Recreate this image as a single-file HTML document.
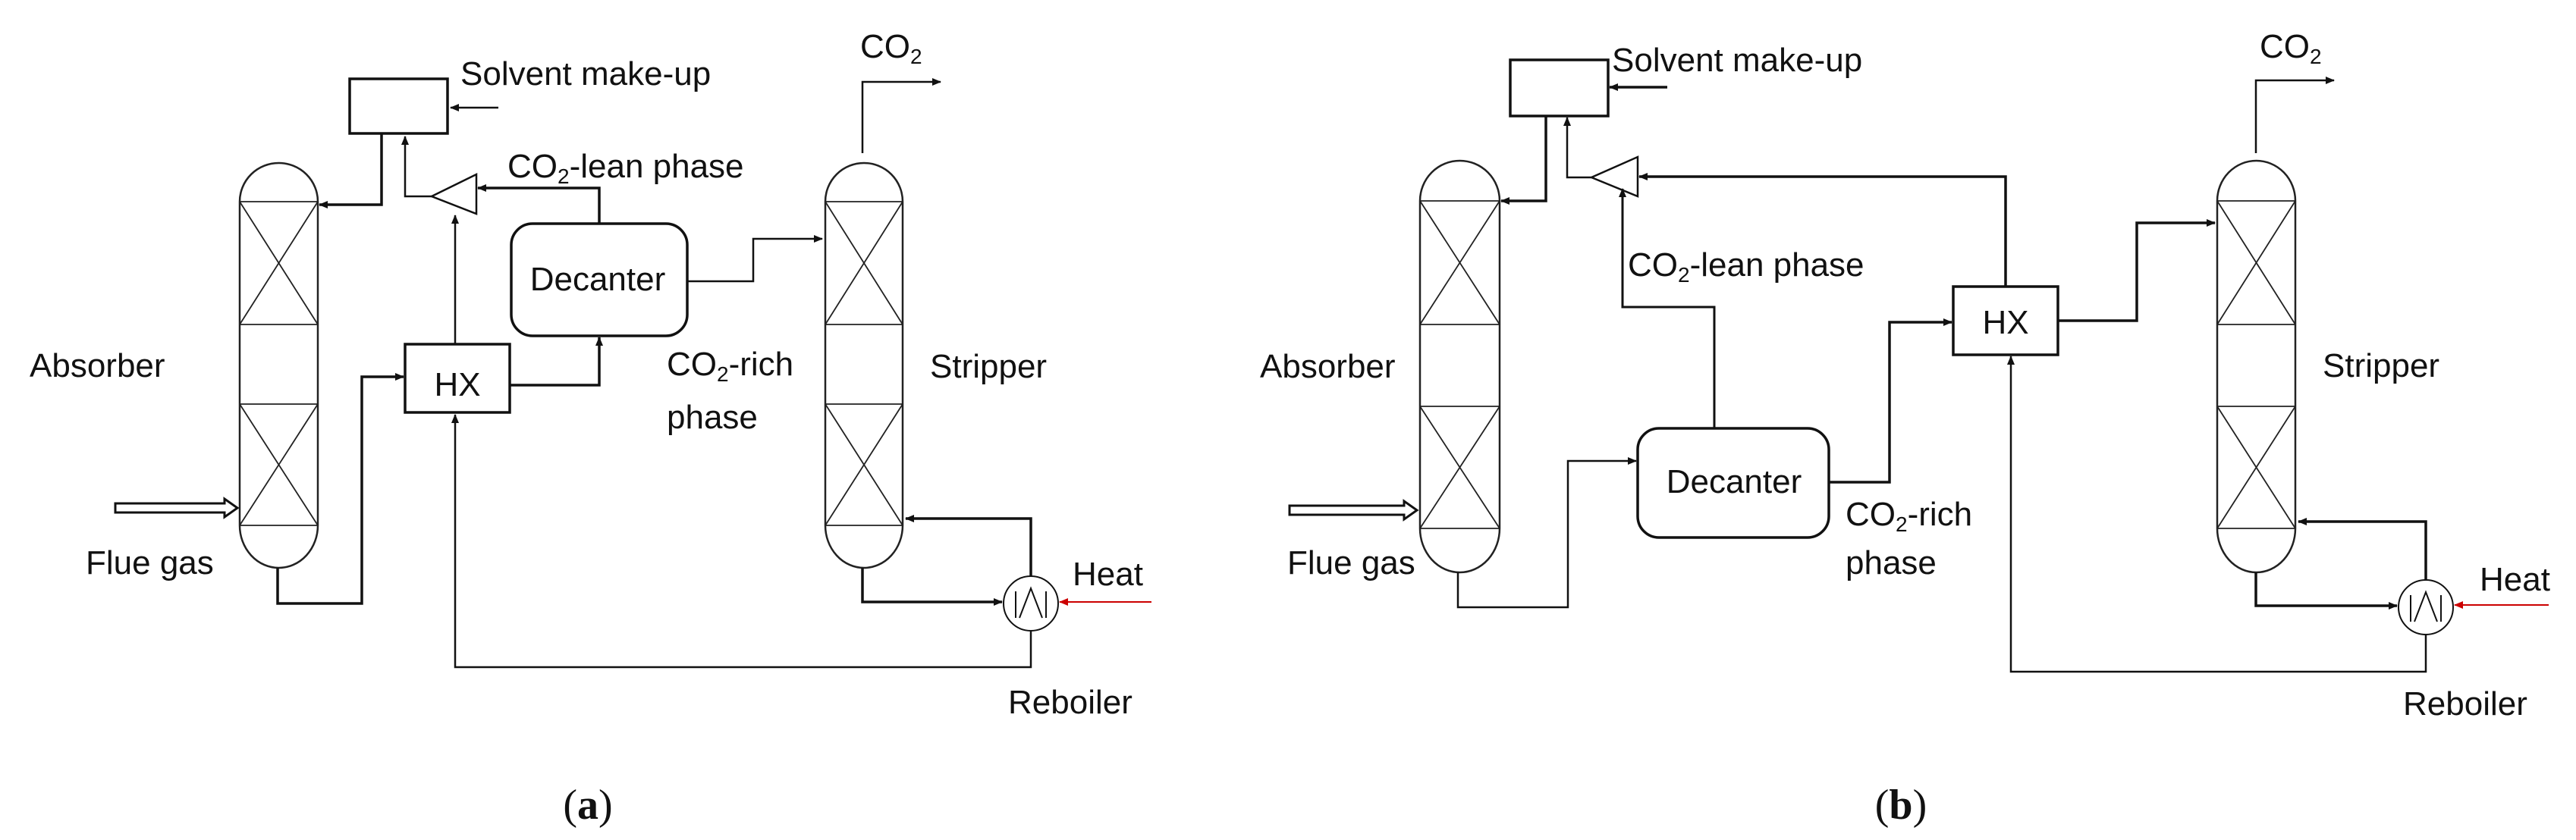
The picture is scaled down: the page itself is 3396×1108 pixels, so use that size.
<!DOCTYPE html>
<html><head><meta charset="utf-8"><style>
html,body{margin:0;padding:0;background:#fff;}
svg{display:block;}
text{font-family:"Liberation Sans",sans-serif;font-size:44px;fill:#111;}
.s{font-size:28px;}
.cap{font-family:"Liberation Serif",serif;font-size:56px;}
</style></head><body>
<svg width="3396" height="1108" viewBox="0 0 3396 1108" xmlns="http://www.w3.org/2000/svg">
<defs>
<marker id="ar" markerWidth="12" markerHeight="10" refX="11" refY="5" orient="auto" markerUnits="userSpaceOnUse"><path d="M0,0 L12,5 L0,10 z" fill="#111"/></marker>
<marker id="rr" markerWidth="12" markerHeight="10" refX="11" refY="5" orient="auto" markerUnits="userSpaceOnUse"><path d="M0,0 L12,5 L0,10 z" fill="#c00"/></marker>
</defs>
<g fill="none" stroke="#222" stroke-width="2.5">
<path d="M316,266 A51.5,51 0 0 1 419,266 L419,693 A51.5,56 0 0 1 316,693 Z"/>
<path d="M316,266H419M316,428H419M316,533H419M316,693H419M316,266L419,428M419,266L316,428M316,533L419,693M419,533L316,693" stroke-width="1.8"/>
<path d="M1088,266 A51,51 0 0 1 1190,266 L1190,693 A51,56 0 0 1 1088,693 Z"/>
<path d="M1088,266H1190M1088,428H1190M1088,533H1190M1088,693H1190M1088,266L1190,428M1190,266L1088,428M1088,533L1190,693M1190,533L1088,693" stroke-width="1.8"/>
<path d="M1872,265 A52.5,53 0 0 1 1977,265 L1977,697 A52.5,58 0 0 1 1872,697 Z"/>
<path d="M1872,265H1977M1872,428H1977M1872,536H1977M1872,697H1977M1872,265L1977,428M1977,265L1872,428M1872,536L1977,697M1977,536L1872,697" stroke-width="1.8"/>
<path d="M2923,265 A51.5,53 0 0 1 3026,265 L3026,697 A51.5,58 0 0 1 2923,697 Z"/>
<path d="M2923,265H3026M2923,428H3026M2923,536H3026M2923,697H3026M2923,265L3026,428M3026,265L2923,428M2923,536L3026,697M3026,536L2923,697" stroke-width="1.8"/>
</g>
<g fill="none" stroke="#111" stroke-width="3.5">
<rect x="461" y="104" width="129" height="72"/>
<polygon points="569,259 628,230 628,282" stroke-width="2.5"/>
<rect x="534" y="454" width="138" height="90"/>
<rect x="674" y="295" width="232" height="148" rx="28"/>
<circle cx="1359" cy="796" r="36" stroke-width="2"/>
<path d="M1339,780 V815 M1379,780 V815 M1344,815 L1359,776 L1374,815" stroke-width="2"/>
<rect x="1991" y="79" width="129" height="74"/>
<polygon points="2098,234 2159,207 2159,259" stroke-width="2.5"/>
<rect x="2575" y="378" width="138" height="90"/>
<rect x="2159" y="565" width="252" height="144" rx="28"/>
<circle cx="3198" cy="801" r="36" stroke-width="2"/>
<path d="M3178,785 V820 M3218,785 V820 M3183,820 L3198,781 L3213,820" stroke-width="2"/>
</g>
<g fill="none" stroke="#111" stroke-width="3.5">
<path d="M657,142 H594" stroke-width="2.5" marker-end="url(#ar)"/>
<path d="M503,176 V270 H421" marker-end="url(#ar)"/>
<path d="M569,259 H534 V180" stroke-width="2.5" marker-end="url(#ar)"/>
<path d="M790,295 V248 H630" marker-end="url(#ar)"/>
<path d="M600,454 V284" stroke-width="2.5" marker-end="url(#ar)"/>
<path d="M672,508 H790 V445" marker-end="url(#ar)"/>
<path d="M906,371 H993 V315 H1084" stroke-width="2.5" marker-end="url(#ar)"/>
<path d="M1137,202 V108 H1240" stroke-width="2.5" marker-end="url(#ar)"/>
<path d="M366,749 V796 H477 V497 H532" marker-end="url(#ar)"/>
<path d="M1137,749 V794 H1321" marker-end="url(#ar)"/>
<path d="M1359,760 V684 H1194" marker-end="url(#ar)"/>
<path d="M1359,832 V880 H600 V547" stroke-width="2.5" marker-end="url(#ar)"/>
<path d="M1518,794 H1397" stroke="#c00" stroke-width="2" marker-end="url(#rr)"/>
<path d="M2198,115 H2122" marker-end="url(#ar)"/>
<path d="M2038,153 V265 H1979" marker-end="url(#ar)"/>
<path d="M2098,234 H2066 V155" stroke-width="2.5" marker-end="url(#ar)"/>
<path d="M2644,378 V233 H2161" marker-end="url(#ar)"/>
<path d="M2260,565 V405 H2139 V249" stroke-width="3" marker-end="url(#ar)"/>
<path d="M1922,755 V801 H2067 V608 H2157" stroke-width="2.5" marker-end="url(#ar)"/>
<path d="M2411,636 H2491 V425 H2573" marker-end="url(#ar)"/>
<path d="M2713,423 H2817 V294 H2920" marker-end="url(#ar)"/>
<path d="M2974,202 V106 H3077" stroke-width="2.5" marker-end="url(#ar)"/>
<path d="M2974,755 V799 H3160" marker-end="url(#ar)"/>
<path d="M3198,765 V688 H3030" marker-end="url(#ar)"/>
<path d="M3198,837 V886 H2651 V470" stroke-width="2.5" marker-end="url(#ar)"/>
<path d="M3360,798 H3236" stroke="#c00" stroke-width="2" marker-end="url(#rr)"/>
</g>
<path d="M152,664 H296 V658 L313,670 L296,682 V676 H152 Z" fill="#fff" stroke="#111" stroke-width="3"/>
<path d="M1700,667 H1851 V661 L1868,673 L1851,685 V679 H1700 Z" fill="#fff" stroke="#111" stroke-width="3"/>
<text x="607" y="112">Solvent make-up</text>
<text x="1134" y="76">CO<tspan class="s" dy="8">2</tspan></text>
<text x="669" y="234">CO<tspan class="s" dy="8">2</tspan><tspan dy="-8">-lean phase</tspan></text>
<text x="788" y="383" text-anchor="middle">Decanter</text>
<text x="603" y="522" text-anchor="middle">HX</text>
<text x="39" y="497">Absorber</text>
<text x="113" y="757">Flue gas</text>
<text x="1226" y="498">Stripper</text>
<text x="879" y="495">CO<tspan class="s" dy="8">2</tspan><tspan dy="-8">-rich</tspan></text>
<text x="879" y="565">phase</text>
<text x="1414" y="772">Heat</text>
<text x="1329" y="941">Reboiler</text>
<text class="cap" x="775" y="1080" text-anchor="middle">(<tspan font-weight="bold">a</tspan>)</text>
<text x="2125" y="94">Solvent make-up</text>
<text x="2979" y="76">CO<tspan class="s" dy="8">2</tspan></text>
<text x="2146" y="364">CO<tspan class="s" dy="8">2</tspan><tspan dy="-8">-lean phase</tspan></text>
<text x="2286" y="650" text-anchor="middle">Decanter</text>
<text x="2644" y="440" text-anchor="middle">HX</text>
<text x="1661" y="498">Absorber</text>
<text x="1697" y="757">Flue gas</text>
<text x="3062" y="497">Stripper</text>
<text x="2433" y="693">CO<tspan class="s" dy="8">2</tspan><tspan dy="-8">-rich</tspan></text>
<text x="2433" y="757">phase</text>
<text x="3269" y="779">Heat</text>
<text x="3168" y="943">Reboiler</text>
<text class="cap" x="2506" y="1080" text-anchor="middle">(<tspan font-weight="bold">b</tspan>)</text>
</svg>
</body></html>
